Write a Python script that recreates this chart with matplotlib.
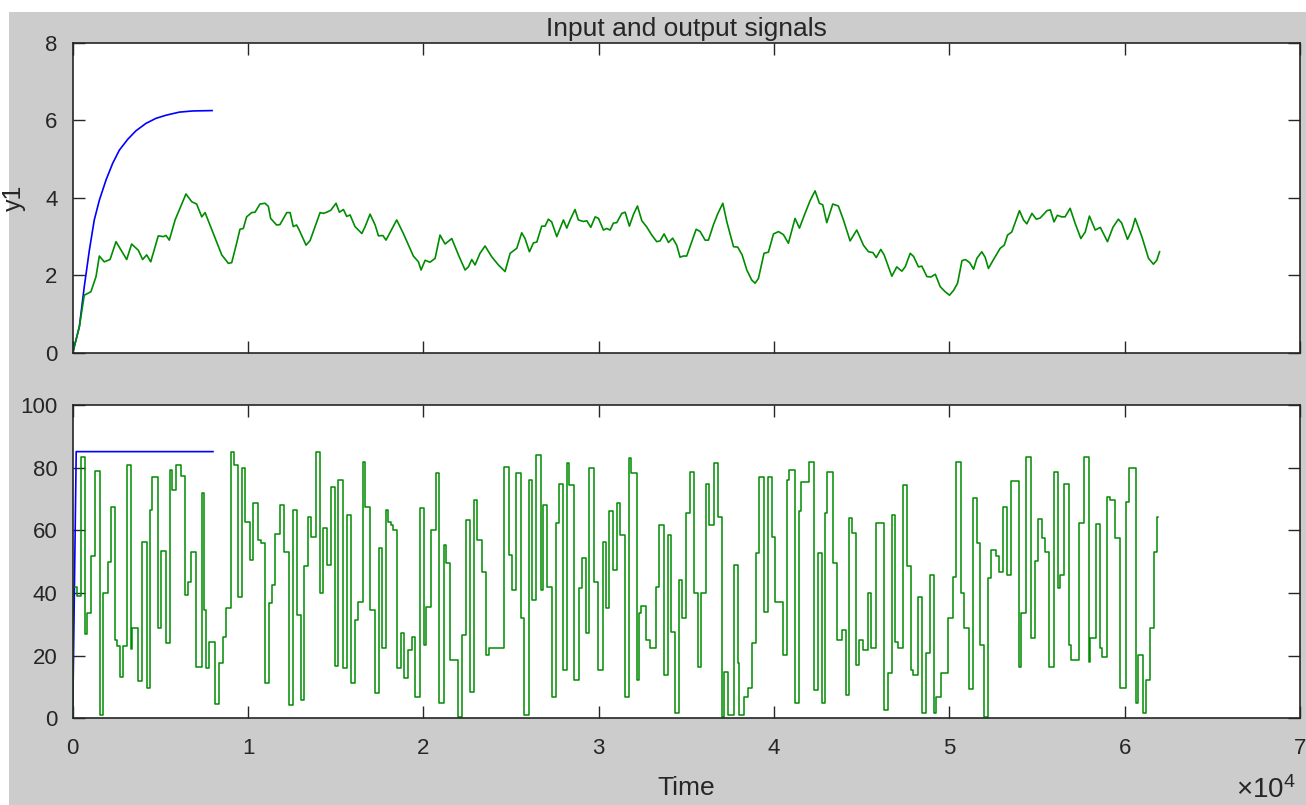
import numpy as np
import matplotlib
matplotlib.use("Agg")
import matplotlib.pyplot as plt
from matplotlib.patches import Rectangle
from matplotlib.ticker import FuncFormatter

plt.rcParams['font.family'] = ['Liberation Sans', 'DejaVu Sans']
plt.rcParams['mathtext.fontset'] = 'custom'
plt.rcParams['mathtext.rm'] = 'Liberation Sans'
plt.rcParams['mathtext.it'] = 'Liberation Sans'

# ---- data (time in thousands of samples) ----
# upper panel: model output (blue) and measured output (green)
y1_model_t = [0, 0.38, 0.66, 0.95, 1.23, 1.52, 1.90, 2.28, 2.66, 3.14, 3.61,
              4.18, 4.75, 5.32, 6.08, 6.84, 7.95]
y1_model_v = [0, 0.68, 1.71, 2.65, 3.43, 3.94, 4.46, 4.89, 5.23, 5.51, 5.73,
              5.92, 6.05, 6.13, 6.21, 6.24, 6.25]

y1_meas_t = [0, 0.38, 0.66, 1.04, 1.33, 1.52, 1.8, 2.13, 2.47, 3.08, 3.36, 3.74,
             3.99, 4.22, 4.45, 4.88, 5.17, 5.32, 5.51, 5.84, 6.46, 6.79, 7.07,
             7.36, 7.55, 8.02, 8.5, 8.88, 9.07, 9.35, 9.54, 9.73, 9.92, 10.21,
             10.4, 10.68, 10.97, 11.16, 11.29, 11.63, 11.82, 12.21, 12.4, 12.58,
             12.77, 12.92, 13.31, 13.54, 14.11, 14.3, 14.49, 14.72, 15.02, 15.21,
             15.44, 15.63, 15.82, 16.1, 16.49, 16.68, 16.96, 17.25, 17.44, 17.69,
             17.87, 18.48, 18.86, 19.43, 19.72, 19.87, 20.1, 20.38, 20.67, 20.95,
             21.24, 21.62, 22.0, 22.38, 22.57, 22.76, 22.95, 23.23, 23.52, 23.9,
             24.28, 24.66, 24.95, 25.33, 25.61, 25.8, 26.05, 26.28, 26.47, 26.75,
             26.94, 27.13, 27.32, 27.61, 27.99, 28.18, 28.37, 28.65, 28.84, 29.13,
             29.32, 29.55, 29.8, 29.99, 30.27, 30.46, 30.65, 30.84, 31.03, 31.32,
             31.51, 31.75, 31.99, 32.21, 32.46, 32.74, 33.03, 33.31, 33.5, 33.73,
             33.98, 34.22, 34.45, 34.64, 34.83, 35.02, 35.31, 35.56, 35.79, 36.07,
             36.26, 36.54, 36.79, 37.08, 37.31, 37.69, 37.93, 38.18, 38.45, 38.73,
             38.92, 39.11, 39.43, 39.68, 39.97, 40.26, 40.54, 40.82, 41.2, 41.45,
             41.77, 42.06, 42.34, 42.59, 42.78, 43.01, 43.35, 43.67, 43.96, 44.34,
             44.72, 45.1, 45.39, 45.64, 45.83, 46.09, 46.28, 46.72, 47.0, 47.29,
             47.48, 47.77, 47.96, 48.24, 48.43, 48.72, 48.95, 49.2, 49.48, 49.76,
             50.01, 50.25, 50.47, 50.72, 50.91, 51.16, 51.38, 51.57, 51.85, 52.04,
             52.23, 52.52, 52.9, 53.13, 53.32, 53.56, 54.0, 54.23, 54.42, 54.71,
             54.96, 55.18, 55.57, 55.76, 55.97, 56.16, 56.41, 56.6, 56.89, 57.17,
             57.5, 57.75, 57.99, 58.32, 58.61, 59.02, 59.33, 59.64, 59.83, 60.16,
             60.41, 60.6, 60.98, 61.36, 61.64, 61.83, 61.99]
y1_meas_v = [0, 0.68, 1.49, 1.58, 1.97, 2.5, 2.35, 2.41, 2.87, 2.41, 2.81, 2.65,
             2.41, 2.53, 2.35, 3.02, 3.0, 3.03, 2.91, 3.43, 4.10, 3.90, 3.84,
             3.51, 3.62, 3.08, 2.53, 2.31, 2.33, 2.83, 3.19, 3.21, 3.51, 3.62,
             3.63, 3.84, 3.86, 3.78, 3.47, 3.30, 3.31, 3.62, 3.62, 3.26,
             3.3, 3.17, 2.78, 2.9, 3.62, 3.6, 3.63, 3.68, 3.86, 3.63,
             3.7, 3.52, 3.56, 3.26, 3.08, 3.26, 3.58, 3.3, 3.02, 3.03,
             2.91, 3.43, 3.08, 2.5, 2.35, 2.14, 2.39, 2.34, 2.44, 3.04,
             2.81, 2.95, 2.53, 2.14, 2.22, 2.41, 2.27, 2.57, 2.76, 2.48,
             2.27, 2.1, 2.57, 2.7, 3.1, 2.95, 2.61, 2.84, 2.86, 3.27,
             3.27, 3.45, 3.38, 3.0, 3.43, 3.22, 3.43, 3.70, 3.43, 3.39,
             3.41, 3.24, 3.51, 3.47, 3.17, 3.21, 3.17, 3.35, 3.36, 3.6,
             3.63, 3.27, 3.58, 3.79, 3.41, 3.25, 3.04, 2.87, 2.89, 3.07,
             2.85, 2.96, 2.78, 2.47, 2.5, 2.5, 2.87, 3.19, 3.13, 2.91,
             2.91, 3.3, 3.59, 3.86, 3.38, 2.74, 2.73, 2.53, 2.14, 1.88,
             1.80, 1.92, 2.57, 2.6, 3.07, 3.13, 3.05, 2.83, 3.47, 3.22,
             3.6, 3.93, 4.18, 3.86, 3.82, 3.36, 3.84, 3.79, 3.43, 2.89,
             3.17, 2.78, 2.61, 2.59, 2.46, 2.67, 2.53, 1.98, 2.22, 2.11,
             2.22, 2.57, 2.49, 2.22, 2.24, 1.97, 1.96, 2.03, 1.71, 1.58,
             1.49, 1.62, 1.8, 2.38, 2.41, 2.33, 2.16, 2.44, 2.61, 2.47,
             2.18, 2.41, 2.7, 2.78, 3.04, 3.12, 3.67, 3.43, 3.33, 3.6,
             3.45, 3.48, 3.67, 3.69, 3.38, 3.55, 3.51, 3.51, 3.73, 3.35,
             2.95, 3.12, 3.53, 3.17, 3.24, 2.87, 3.24, 3.45, 3.35, 2.93,
             3.17, 3.47, 3.0, 2.44, 2.29, 2.39, 2.61]

# lower panel: constant input (blue) and excitation input (green, piecewise constant)
u_model_t = [0, 0.2, 8.0]
u_model_v = [0, 85.2, 85.2]

u_meas_t = [0.0, 0.04, 0.23, 0.48, 0.70, 0.80, 1.03, 1.27, 1.55, 1.70, 2.00, 2.19,
            2.40, 2.55, 2.70, 2.89, 3.10, 3.30, 3.40, 3.70, 3.98, 4.25, 4.42, 4.55,
            4.85, 5.05, 5.30, 5.55, 5.68, 5.88, 6.15, 6.40, 6.55, 6.75, 7.02, 7.35,
            7.47, 7.60, 7.80, 8.12, 8.33, 8.55, 8.75, 9.05, 9.18, 9.45, 9.65, 9.85,
            10.10, 10.30, 10.55, 10.75, 10.98, 11.22, 11.35, 11.55, 11.80, 12.05,
            12.35, 12.55, 12.78, 13.00, 13.20, 13.40, 13.62, 13.85, 14.08, 14.25,
            14.50, 14.72, 14.95, 15.15, 15.42, 15.62, 15.90, 16.10, 16.25, 16.55,
            16.70, 16.98, 17.22, 17.45, 17.62, 17.85, 17.98, 18.15, 18.25, 18.48,
            18.72, 18.92, 19.10, 19.35, 19.55, 19.82, 20.02, 20.15, 20.42, 20.70,
            20.92, 21.15, 21.28, 21.52, 21.95, 22.18, 22.42, 22.68, 22.90, 23.05,
            23.32, 23.55, 23.75, 24.62, 24.88, 25.08, 25.30, 25.55, 25.75, 26.00,
            26.22, 26.45, 26.70, 26.82, 27.08, 27.35, 27.55, 27.75, 27.98, 28.18,
            28.32, 28.60, 28.85, 29.02, 29.28, 29.45, 29.75, 29.95, 30.22, 30.42,
            30.60, 30.83, 31.02, 31.20, 31.50, 31.75, 31.85, 32.18, 32.30, 32.40,
            32.72, 32.95, 33.28, 33.45, 33.70, 33.97, 34.12, 34.38, 34.60, 34.74,
            34.98, 35.18, 35.45, 35.68, 35.82, 36.12, 36.32, 36.60, 36.82, 37.02,
            37.16, 37.38, 37.72, 37.92, 38.02, 38.28, 38.50, 38.74, 38.98, 39.17,
            39.45, 39.65, 39.90, 40.03, 40.50, 40.74, 40.88, 41.20, 41.45, 41.55,
            41.98, 42.30, 42.50, 42.72, 42.92, 43.05, 43.35, 43.62, 43.88, 44.10,
            44.30, 44.45, 44.70, 44.85, 45.05, 45.35, 45.52, 45.82, 46.25, 46.52,
            46.72, 46.92, 47.05, 47.37, 47.58, 47.82, 47.92, 48.20, 48.45, 48.65,
            48.88, 49.15, 49.25, 49.52, 49.95, 50.20, 50.40, 50.68, 50.86, 51.12,
            51.35, 51.57, 51.76, 51.98, 52.18, 52.38, 52.65, 52.82, 53.05, 53.28,
            53.52, 53.95, 54.10, 54.35, 54.65, 54.86, 55.05, 55.30, 55.45, 55.70,
            55.98, 56.18, 56.32, 56.55, 56.80, 56.95, 57.40, 57.70, 57.98, 58.04,
            58.36, 58.57, 58.70, 59.02, 59.18, 59.45, 59.73, 60.05, 60.25, 60.62,
            60.75, 61.03, 61.22, 61.42, 61.65, 61.85, 61.92]
u_meas_v = [0, 42, 39, 83.4, 27, 33.5, 52, 79, 1, 40, 50, 67.6,
            25, 23, 13.3, 23, 81, 22, 28.8, 12, 56.4, 9.6, 66.6, 77.2,
            28.8, 53.6, 24.2, 79.3, 73, 81, 77.4, 39.4, 43.7, 53.2, 16.5, 71.9,
            34.6, 16, 24.5, 4.6, 17.6, 25.9, 35.1, 85.2, 81, 38.9, 79.9, 62.8,
            50.6, 68.9, 57, 56, 11.4, 36.7, 42.6, 58.9, 68.2, 53.2,
            4.3, 66.6, 33, 5.9, 48.5, 64.4, 58, 85.2, 39.9, 60.7,
            49, 73.8, 16.7, 76.1, 16.2, 65, 11.2, 31.4, 37.3, 82,
            67.6, 34.6, 8, 54.3, 22.4, 66.6, 62.8, 61.8, 60.2, 16,
            27.2, 12.8, 21.8, 26.1, 6.9, 67.1, 23.4, 35.7, 60.2, 78.3,
            4.8, 55.4, 49.5, 18.6, 0.5, 26.6, 63.4, 8.5, 69.8, 57,
            46.9, 20.2, 22.5, 80.4, 52.2, 41, 78.3, 32, 1, 76.1,
            37.8, 84.1, 41, 68.2, 42, 6.9, 62.3, 75, 15.4, 81.5,
            74.5, 12.2, 41.5, 51.1, 27.2, 79.9, 43.7, 15.4, 56.4, 35.1,
            66.1, 47.4, 68.7, 58.6, 6.9, 83.1, 78.3, 12.2, 33.5, 35.9,
            25, 22.4, 42, 61.8, 13.8, 58.6, 27.7, 1.6, 44.2, 32,
            65.5, 78.8, 40, 16.5, 40, 75, 61.8, 81.5, 64.4, 0.5,
            14.9, 1, 49, 17.6, 1, 6.9, 9.6, 24.2, 52.7, 77.2,
            34.1, 77, 58, 37.3, 20.2, 76.1, 79.3, 4.8, 66.1, 75.6,
            82, 9, 52.7, 4.8, 65.5, 78.8, 49.5, 25, 28.2, 7.5,
            63.9, 59.1, 17, 25, 21.8, 40, 22.4, 62.3, 2.7, 14.4,
            65, 24.5, 22.4, 74.5, 48.5, 15.4, 13.8, 38.9, 1.6, 20.8,
            45.8, 1.6, 6.9, 14.4, 32, 45.3, 82, 40, 28.8, 9.3,
            70.3, 55.9, 23.4, 0.5, 44.7, 53.8, 51.7, 46.9, 67.6, 45.8,
            75.9, 16.5, 33.5, 83.6, 25.6, 50.1, 63.6, 57.5, 53.2, 16.5,
            78.8, 41.5, 45.8, 75, 23.4, 18.6, 62.3, 83.4, 18.1, 25.6,
            62.1, 22.4, 19.7, 70.8, 69.8, 57.5, 9.6, 69.2, 79.9, 4.8,
            20.2, 1.6, 12.2, 29, 53.2, 64.4, 64.4]

x_ticks = [0, 1, 2, 3, 4, 5, 6, 7]          # in units of 1e4 samples
y1_ticks = [0, 2, 4, 6, 8]
u_ticks = [0, 20, 40, 60, 80, 100]

to_samples = lambda a: np.asarray(a, dtype=float) * 1000.0

# ---- figure ----
W, H = 1306, 805
fig = plt.figure(figsize=(W / 100, H / 100), dpi=100, facecolor='white')
fig.patches.append(Rectangle((9 / W, 0), 1 - 9 / W, (H - 12) / H,
                             transform=fig.transFigure, facecolor='#cccccc',
                             edgecolor='none', zorder=-10))

left, width = 72.7 / W, (1300 - 72.7) / W
ax1 = fig.add_axes([left, (H - 353) / H, width, 310.3 / H])
ax2 = fig.add_axes([left, (H - 718.3) / H, width, 313 / H])

BLUE = (0.0, 0.0, 1.0)
GREEN = (0.0, 0.55, 0.0)
INK = '#262626'

ax1.plot(to_samples(y1_model_t), y1_model_v, color=BLUE, lw=1.2)
ax1.plot(to_samples(y1_meas_t), y1_meas_v, color=GREEN, lw=1.2)

ax2.plot(to_samples(u_model_t), u_model_v, color=BLUE, lw=1.2)
ax2.plot(to_samples(u_meas_t), u_meas_v, color=GREEN, lw=1.1,
         drawstyle='steps-post')

xt = [v * 1e4 for v in x_ticks]
for ax in (ax1, ax2):
    ax.set_facecolor('white')
    ax.set_xlim(0, 7e4)
    ax.set_xticks(xt)
    ax.tick_params(direction='in', length=8.5, width=1.0, top=True, right=True,
                   labelsize=16, colors=INK, pad=11)
    ax.tick_params(axis='x', pad=14)
    for s in ax.spines.values():
        s.set_linewidth(1.2)
        s.set_color(INK)

ax1.set_ylim(0, 8)
ax1.set_yticks(y1_ticks)
ax1.tick_params(axis='x', labelbottom=False)
ax1.set_ylabel('y1', fontsize=18, color=INK)
ax1.yaxis.set_label_coords(-0.038, 0.5)
ax1.set_title('Input and output signals', fontsize=19, color=INK, pad=5)

ax2.set_ylim(0, 100)
ax2.set_yticks(u_ticks)
ax2.xaxis.set_major_formatter(FuncFormatter(lambda v, p: f'{v / 1e4:g}'))
ax2.set_xlabel('Time', fontsize=19, color=INK)
ax2.xaxis.set_label_coords(0.5, -0.185)

fig.text(1236 / W, 1 / H, r'$\times10^{4}$', fontsize=20, color=INK,
         ha='left', va='bottom')

fig.savefig('out.png', dpi=100, facecolor=fig.get_facecolor())
